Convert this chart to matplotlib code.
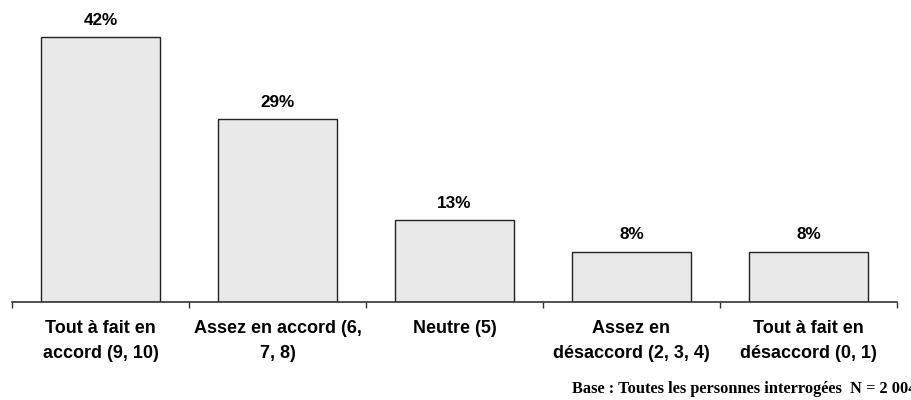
import matplotlib

matplotlib.use("Agg")
import matplotlib.pyplot as plt
import numpy as np

categories = [
    "Tout à fait en\naccord (9, 10)",
    "Assez en accord (6,\n7, 8)",
    "Neutre (5)",
    "Assez en\ndésaccord (2, 3, 4)",
    "Tout à fait en\ndésaccord (0, 1)",
]
values = [42, 29, 13, 8, 8]
value_labels = ["42%", "29%", "13%", "8%", "8%"]
footnote = "Base : Toutes les personnes interrogées  N = 2 004"

fig = plt.figure(figsize=(9.11, 4.0), dpi=100)
ax = fig.add_axes([0.0132, 0.245, 0.9714, 0.71])

x = np.arange(len(values))
ax.bar(x, values, width=0.667, color="#e9e9e9", edgecolor="#222222",
       linewidth=1.0, zorder=2)

for xi, v, lab in zip(x, values, value_labels):
    ax.annotate(lab, (xi, v), xytext=(0, 6.5), textcoords="offset points",
                ha="center", va="bottom", fontsize=12.3, fontweight="bold",
                family="Liberation Sans")

ax.set_xlim(-0.5, len(values) - 0.5)
ax.set_ylim(0, 45)

# Axis: only bottom line, ticks at category boundaries
for s in ["top", "right", "left"]:
    ax.spines[s].set_visible(False)
ax.spines["bottom"].set_color("#333333")
ax.spines["bottom"].set_linewidth(1.2)
ax.set_yticks([])
ax.set_xticks(np.arange(len(values) + 1) - 0.5)
ax.set_xticklabels([])
ax.tick_params(axis="x", direction="out", length=4, width=1.0, color="#333333")
ax.set_xticks(x, minor=True)
ax.set_xticklabels(categories, minor=True, fontsize=13, fontweight="bold",
                   family="Liberation Sans", linespacing=1.6)
ax.tick_params(axis="x", which="minor", length=0, pad=13)

# footnote runs past the right edge, as in the source
fig.text(572 / 911, 11 / 400, footnote, ha="left", va="center", fontsize=11.8,
         fontweight="bold", family="Liberation Serif")

fig.savefig("out.png", dpi=100)
plt.close(fig)
